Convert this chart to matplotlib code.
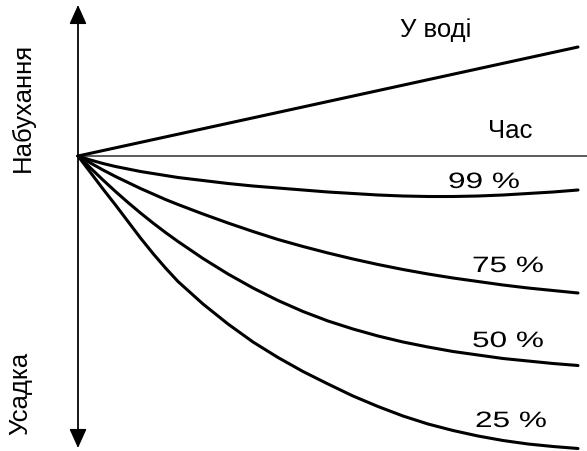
import matplotlib
matplotlib.use('Agg')
import matplotlib.pyplot as plt
from matplotlib.patheffects import AbstractPathEffect
from matplotlib.transforms import Affine2D

# time axis (arbitrary units) and deformation (+ swelling, - shrinkage)
time = [0, 0.25, 0.5, 0.75, 1, 1.25, 1.5, 1.75, 2, 2.5, 3, 3.5, 4, 4.5, 5,
        5.5, 6, 6.5, 7, 7.5, 8, 8.5, 9, 9.5, 10]
water_time = [0, 10]
water = [0, 10.9]
rh_99 = [0, -0.4, -0.75, -1.05, -1.3, -1.55, -1.75, -1.95, -2.15, -2.45, -2.75, -3.0, -3.2,
         -3.4, -3.6, -3.75, -3.9, -4.0, -4.05, -4.05, -4.0, -3.9, -3.75, -3.6, -3.4]
rh_75 = [0, -0.7, -1.4, -2.05, -2.65, -3.25, -3.8, -4.35, -4.85, -5.8, -6.7, -7.55, -8.35,
         -9.05, -9.7, -10.3, -10.85, -11.35, -11.8, -12.2, -12.55, -12.9, -13.2, -13.45, -13.7]
rh_50 = [0, -1.2, -2.4, -3.55, -4.65, -5.7, -6.7, -7.65, -8.55, -10.25, -11.8, -13.2, -14.45,
         -15.55, -16.5, -17.3, -18.0, -18.6, -19.1, -19.55, -19.9, -20.25, -20.5, -20.75, -20.95]
rh_25 = [0, -1.65, -3.3, -4.9, -6.55, -8.2, -9.75, -11.2, -12.55, -14.8, -16.8, -18.6, -20.15,
         -21.55, -22.8, -24.0, -25.05, -26.0, -26.8, -27.45, -28.0, -28.45, -28.8, -29.05, -29.25]

curve_labels = ['99 %', '75 %', '50 %', '25 %']


class HStretch(AbstractPathEffect):
    # widen glyphs horizontally, anchored at the text's left baseline
    def __init__(self, sx):
        super().__init__()
        self.sx = sx

    def draw_path(self, renderer, gc, tpath, affine, rgbFace=None):
        renderer.draw_path(gc, tpath, Affine2D().scale(self.sx, 1) + affine, rgbFace)


fig = plt.figure(figsize=(5.87, 4.51), dpi=100)
ax = fig.add_axes([0, 0, 1, 1])
ax.set_xlim(-1.56, 10.18)
ax.set_ylim(-29.5, 15.6)
ax.axis('off')

# axes: vertical double arrow and horizontal time line
axis_color = '#404040'
ax.plot([0, 10.2], [0, 0], color=axis_color, lw=1.2)
arrow = dict(arrowstyle='-|>,head_length=0.6,head_width=0.27', mutation_scale=20,
             color='black', lw=1.0, shrinkA=0, shrinkB=0)
ax.annotate('', xy=(0, 15.1), xytext=(0, 0), arrowprops=arrow)
ax.annotate('', xy=(0, -29.2), xytext=(0, 0), arrowprops=arrow)
ax.plot([0, 0], [-28, 14], color=axis_color, lw=1.2)

# curves
ax.plot(water_time, water, color='black', lw=2.2, solid_capstyle='round')
for vals in [rh_99, rh_75, rh_50, rh_25]:
    ax.plot(time, vals, color='black', lw=2.2, solid_joinstyle='round',
            solid_capstyle='round')

font = 'Liberation Sans'
ax.text(6.44, 11.9, 'У воді', family=font, fontsize=18.5, ha='left', va='baseline')
ax.text(8.2, 1.8, 'Час', family=font, fontsize=18.5, ha='left', va='baseline')
ax.text(-1.1, 4.9, 'Набухання', family=font, fontsize=18.5, rotation=90,
        ha='center', va='center')
ax.text(-1.15, -23.7, 'Усадка', family=font, fontsize=18.5, rotation=90,
        ha='center', va='center')

label_pos = [(7.4, -3.2), (7.88, -11.6), (7.88, -19.1), (7.94, -27.1)]
for lab, (tx, ty) in zip(curve_labels, label_pos):
    ax.text(tx, ty, lab, family=font, fontsize=16, ha='left', va='baseline',
            path_effects=[HStretch(1.42)])

fig.savefig('out.png', dpi=100)
